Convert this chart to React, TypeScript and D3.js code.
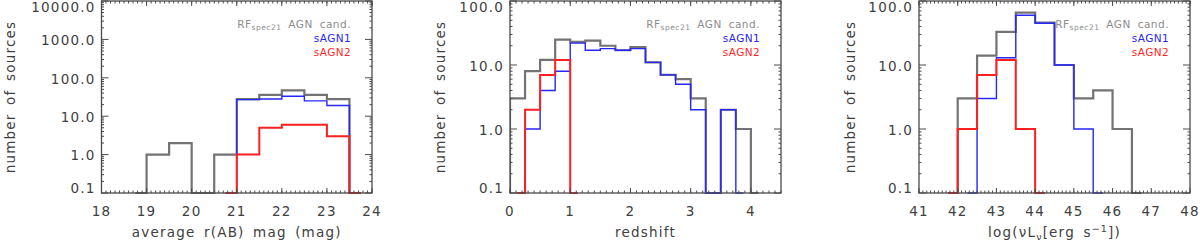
import React from "react";
import * as d3 from "d3";

const W = 1200;
const H = 243;
const TOP = 1;
const BOTTOM = 193;

// ---- Panel 1: average r(AB) mag ----
const magBins = [18.75, 19.25, 19.75, 20.25, 20.75, 21.25, 21.75, 22.25, 22.75, 23.25, 23.75];
const magAll = [0, 1, 2, 0, 1, 28, 36, 47, 36, 28, 0];
const magAGN1 = [null, null, null, null, 0, 27, 28, 33, 25, 19, 0];
const magAGN2 = [null, null, null, null, 0, 1, 5, 6, 6, 3, 0];
const magTicks = [18, 19, 20, 21, 22, 23, 24];

// ---- Panel 2: redshift ----
const zBins = [-0.125, 0.125, 0.375, 0.625, 0.875, 1.125, 1.375, 1.625, 1.875, 2.125, 2.375, 2.625, 2.875, 3.125, 3.375, 3.625, 3.875, 4.125];
const zAll = [0, 3, 8, 12, 25, 23, 24, 20, 17, 19, 11, 7, 6, 3, 0, 2, 1, 0];
const zAGN1 = [null, 0, 1, 4, 8, 22, 17, 18, 17, 18, 11, 7, 5, 2, 0, 2, 0, null];
const zAGN2 = [null, 0, 2, 7, 12, 0, null, null, null, null, null, null, null, null, null, null, null, null];
const zTicks = [0, 1, 2, 3, 4];

// ---- Panel 3: luminosity ----
const lBins = [41.75, 42.25, 42.75, 43.25, 43.75, 44.25, 44.75, 45.25, 45.75, 46.25, 46.75];
const lAll = [0, 3, 14, 33, 66, 46, 10, 3, 4, 1, 0];
const lAGN1 = [null, 0, 3, 13, 60, 45, 10, 1, 0, null, null];
const lAGN2 = [0, 1, 7, 12, 1, 0, null, null, null, null, null];
const lTicks = [41, 42, 43, 44, 45, 46, 47, 48];

const FONT = "'DejaVu Sans', sans-serif";
const TXT = "#404040";
const AX = "#4a4a4a";
const GRAY = "#737373";
const BLUE = "#2626ff";
const RED = "#ff1f1f";
const LEG_GRAY = "#8c8c8c";

type Val = number | null;

interface PanelProps {
  id: string;
  left: number;
  right: number;
  xDomain: [number, number];
  xTicks: number[];
  yDomain: [number, number];
  bins: number[];
  all: Val[];
  agn1: Val[];
  agn2: Val[];
  title: React.ReactNode;
  ylabelX: number;
}

function Panel(p: PanelProps) {
  const x = d3.scaleLinear().domain(p.xDomain).range([p.left, p.right]);
  const y = d3.scaleLog().domain(p.yDomain).range([BOTTOM, TOP]);
  const line = d3
    .line<[number, Val]>()
    .defined((d) => d[1] !== null)
    .x((d) => x(d[0]))
    .y((d) => y(Math.max(d[1] as number, p.yDomain[0])))
    .curve(d3.curveStep);
  const pts = (vals: Val[]) => p.bins.map((b, i) => [b, vals[i]] as [number, Val]);

  const lo = Math.round(Math.log10(p.yDomain[0]));
  const hi = Math.round(Math.log10(p.yDomain[1]));
  const decades = d3.range(lo, hi + 1).map((e) => Math.pow(10, e));
  const minorY: number[] = [];
  decades.slice(0, -1).forEach((d) => {
    for (let k = 2; k <= 9; k++) minorY.push(d * k);
  });
  const minorX = d3.range(Math.round(p.xDomain[0] * 10), Math.round(p.xDomain[1] * 10) + 1).map((v) => v / 10);

  const MAJ = 5;
  const MIN = 2.5;
  const clipId = "clip-" + p.id;
  const legendX = p.right - 21;

  return (
    <g>
      <defs>
        <clipPath id={clipId}>
          <rect x={p.left} y={TOP - 3} width={p.right - p.left} height={BOTTOM - TOP + 6} />
        </clipPath>
      </defs>
      {/* histograms */}
      <g clipPath={`url(#${clipId})`} fill="none">
        <path d={line(pts(p.all)) || ""} stroke={GRAY} strokeWidth={2.2} />
        <path d={line(pts(p.agn1)) || ""} stroke={BLUE} strokeWidth={1.4} />
        <path d={line(pts(p.agn2)) || ""} stroke={RED} strokeWidth={2} />
      </g>
      {/* frame */}
      <rect x={p.left} y={TOP} width={p.right - p.left} height={BOTTOM - TOP} fill="none" stroke={AX} strokeWidth={1.3} />
      {/* x ticks */}
      {minorX.map((v, i) => (
        <g key={"mx" + i}>
          <line x1={x(v)} x2={x(v)} y1={BOTTOM} y2={BOTTOM - MIN} stroke={AX} strokeWidth={1} />
          <line x1={x(v)} x2={x(v)} y1={TOP} y2={TOP + MIN} stroke={AX} strokeWidth={1} />
        </g>
      ))}
      {p.xTicks.map((v) => (
        <g key={"x" + v}>
          <line x1={x(v)} x2={x(v)} y1={BOTTOM} y2={BOTTOM - MAJ} stroke={AX} strokeWidth={1} />
          <line x1={x(v)} x2={x(v)} y1={TOP} y2={TOP + MAJ} stroke={AX} strokeWidth={1} />
          <text x={x(v)} y={216} textAnchor="middle" fontFamily={FONT} fontSize={13.5} letterSpacing={1.2} fill={TXT}>
            {String(v)}
          </text>
        </g>
      ))}
      {/* y ticks */}
      {minorY.map((v, i) => (
        <g key={"my" + i}>
          <line x1={p.left} x2={p.left + MIN} y1={y(v)} y2={y(v)} stroke={AX} strokeWidth={1} />
          <line x1={p.right} x2={p.right - MIN} y1={y(v)} y2={y(v)} stroke={AX} strokeWidth={1} />
        </g>
      ))}
      {decades.map((v) => {
        const cy = Math.min(188, Math.max(6.7, y(v) + 0.7));
        return (
          <g key={"y" + v}>
            <line x1={p.left} x2={p.left + MAJ * 1.4} y1={y(v)} y2={y(v)} stroke={AX} strokeWidth={1} />
            <line x1={p.right} x2={p.right - MAJ * 1.4} y1={y(v)} y2={y(v)} stroke={AX} strokeWidth={1} />
            <text x={p.left - 6} y={cy + 5} textAnchor="end" fontFamily={FONT} fontSize={13.5} letterSpacing={1.2} fill={TXT}>
              {v.toFixed(1)}
            </text>
          </g>
        );
      })}
      {/* axis titles */}
      <text
        x={(p.left + p.right) / 2}
        y={237}
        textAnchor="middle"
        fontFamily={FONT}
        fontSize={13.5}
        letterSpacing={1.2}
        wordSpacing={3}
        fill={TXT}
      >
        {p.title}
      </text>
      <text
        transform={`translate(${p.ylabelX},97) rotate(-90)`}
        textAnchor="middle"
        fontFamily={FONT}
        fontSize={13.5}
        letterSpacing={1.2}
        wordSpacing={3}
        fill={TXT}
      >
        number of sources
      </text>
      {/* legend */}
      <text x={legendX} y={28} textAnchor="end" fontFamily={FONT} fontSize={10.5} letterSpacing={0.5} wordSpacing={3} fill={LEG_GRAY}>
        RF
        <tspan fontSize={7.5} dy={2}>spec21</tspan>
        <tspan dy={-2}> AGN cand.</tspan>
      </text>
      <text x={legendX} y={41.7} textAnchor="end" fontFamily={FONT} fontSize={10.5} letterSpacing={0.4} fill={BLUE}>
        sAGN1
      </text>
      <text x={legendX} y={55.7} textAnchor="end" fontFamily={FONT} fontSize={10.5} letterSpacing={0.4} fill={RED}>
        sAGN2
      </text>
    </g>
  );
}

export default function App() {
  return (
    <svg width={W} height={H} viewBox={`0 0 ${W} ${H}`} style={{ position: "absolute", left: 0, top: 0, background: "#fff" }}>
      <rect x={0} y={0} width={W} height={H} fill="#fff" />
      <Panel
        id="p1"
        left={101.5}
        right={372}
        xDomain={[18, 24]}
        xTicks={magTicks}
        yDomain={[0.1, 10000]}
        bins={magBins}
        all={magAll}
        agn1={magAGN1}
        agn2={magAGN2}
        title="average r(AB) mag (mag)"
        ylabelX={15}
      />
      <Panel
        id="p2"
        left={510}
        right={781}
        xDomain={[0, 4.5]}
        xTicks={zTicks}
        yDomain={[0.1, 100]}
        bins={zBins}
        all={zAll}
        agn1={zAGN1}
        agn2={zAGN2}
        title="redshift"
        ylabelX={445}
      />
      <Panel
        id="p3"
        left={919}
        right={1190}
        xDomain={[41, 48]}
        xTicks={lTicks}
        yDomain={[0.1, 100]}
        bins={lBins}
        all={lAll}
        agn1={lAGN1}
        agn2={lAGN2}
        title={
          <>
            log(νL<tspan fontSize={9.5} dy={3}>ν</tspan>
            <tspan dy={-3}>[erg s</tspan>
            <tspan fontSize={9.5} dy={-5}>−1</tspan>
            <tspan dy={5}>])</tspan>
          </>
        }
        ylabelX={855}
      />
    </svg>
  );
}
